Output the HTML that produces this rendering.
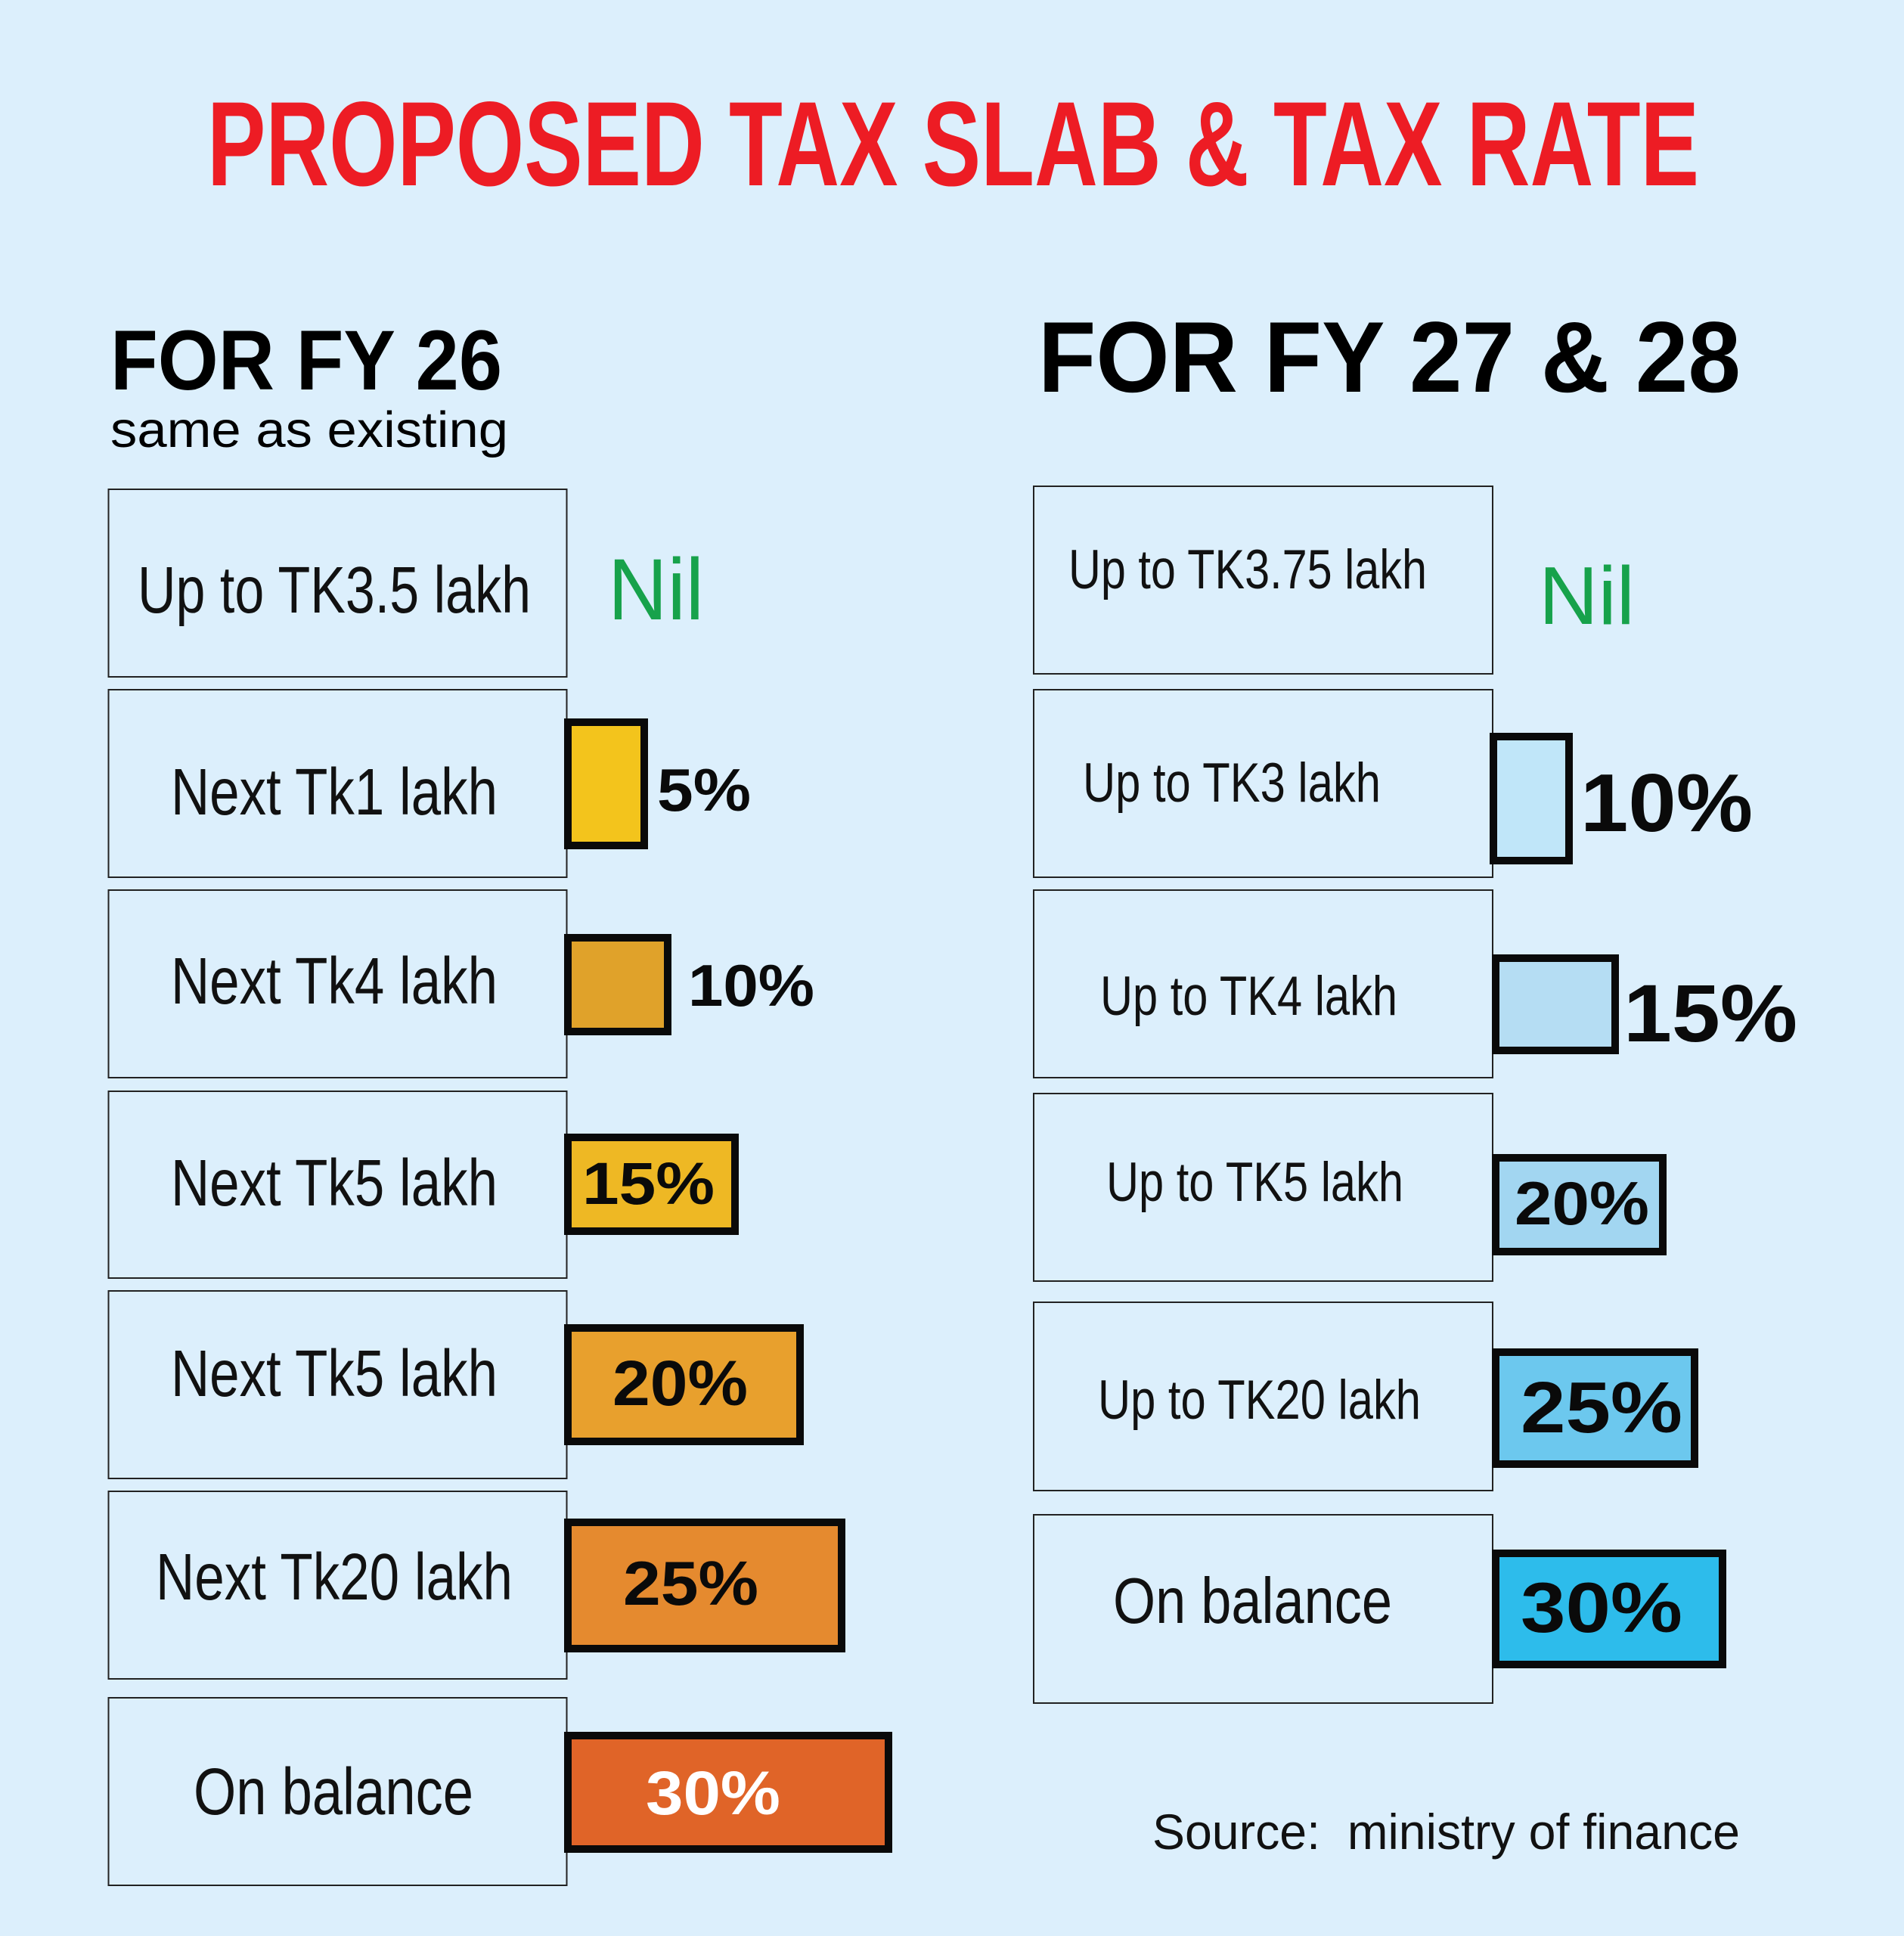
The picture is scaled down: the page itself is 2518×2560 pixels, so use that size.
<!DOCTYPE html>
<html>
<head>
<meta charset="utf-8">
<style>
html,body{margin:0;padding:0;background:#DCEFFC;}
svg{display:block;}
text{font-family:"Liberation Sans",Arial,sans-serif;}
.lbl{font-size:87px;fill:#111;}
.rlbl{font-size:73px;fill:#111;}
.pct{font-weight:bold;fill:#0a0a0a;}
.box{fill:none;stroke:#222;stroke-width:2;}
.bar{stroke:#0a0a0a;stroke-width:10;}
</style>
</head>
<body>
<svg width="2518" height="2560" viewBox="0 0 2518 2560" xmlns="http://www.w3.org/2000/svg">
<rect x="0" y="0" width="2518" height="2560" fill="#DCEFFC"/>

<!-- Title -->
<text x="274" y="245" font-size="159" font-weight="bold" fill="#ED1C24" textLength="1973" lengthAdjust="spacingAndGlyphs">PROPOSED TAX SLAB &amp; TAX RATE</text>

<!-- Headings -->
<text x="146" y="515" font-size="112" font-weight="bold" fill="#000" textLength="518" lengthAdjust="spacingAndGlyphs">FOR FY 26</text>
<text x="146" y="591" font-size="67" fill="#000" textLength="526" lengthAdjust="spacingAndGlyphs">same as existing</text>
<text x="1373" y="518" font-size="133" font-weight="bold" fill="#000" textLength="929" lengthAdjust="spacingAndGlyphs">FOR FY 27 &amp; 28</text>

<!-- Left boxes -->
<rect class="box" x="143.5" y="647" width="606" height="248"/>
<rect class="box" x="143.5" y="912" width="606" height="248"/>
<rect class="box" x="143.5" y="1177" width="606" height="248"/>
<rect class="box" x="143.5" y="1443" width="606" height="247"/>
<rect class="box" x="143.5" y="1707" width="606" height="248"/>
<rect class="box" x="143.5" y="1972" width="606" height="248"/>
<rect class="box" x="143.5" y="2245" width="606" height="248"/>

<!-- Left labels -->
<text class="lbl" x="182" y="810" textLength="520" lengthAdjust="spacingAndGlyphs">Up to TK3.5 lakh</text>
<text class="lbl" x="226" y="1077" textLength="432" lengthAdjust="spacingAndGlyphs">Next Tk1 lakh</text>
<text class="lbl" x="226" y="1327" textLength="432" lengthAdjust="spacingAndGlyphs">Next Tk4 lakh</text>
<text class="lbl" x="226" y="1594" textLength="432" lengthAdjust="spacingAndGlyphs">Next Tk5 lakh</text>
<text class="lbl" x="226" y="1846" textLength="432" lengthAdjust="spacingAndGlyphs">Next Tk5 lakh</text>
<text class="lbl" x="206" y="2115" textLength="472" lengthAdjust="spacingAndGlyphs">Next Tk20 lakh</text>
<text class="lbl" x="256" y="2399" textLength="370" lengthAdjust="spacingAndGlyphs">On balance</text>

<!-- Left values -->
<text x="804" y="819" font-size="115" fill="#17A24B" textLength="127" lengthAdjust="spacingAndGlyphs">Nil</text>

<rect class="bar" x="751" y="955" width="101" height="163" fill="#F3C41C"/>
<text class="pct" x="869" y="1072" font-size="80" textLength="124" lengthAdjust="spacingAndGlyphs">5%</text>

<rect class="bar" x="751" y="1240" width="132" height="124" fill="#E0A22A"/>
<text class="pct" x="910" y="1330" font-size="78" textLength="167" lengthAdjust="spacingAndGlyphs">10%</text>

<rect class="bar" x="751" y="1504" width="221" height="124" fill="#EEB824"/>
<text class="pct" x="770" y="1592" font-size="79" textLength="175" lengthAdjust="spacingAndGlyphs">15%</text>

<rect class="bar" x="751" y="1756" width="307" height="150" fill="#E8A02D"/>
<text class="pct" x="810" y="1858" font-size="84" textLength="179" lengthAdjust="spacingAndGlyphs">20%</text>

<rect class="bar" x="751" y="2013" width="362" height="167" fill="#E58A2F"/>
<text class="pct" x="824" y="2122" font-size="83" textLength="179" lengthAdjust="spacingAndGlyphs">25%</text>

<rect class="bar" x="751" y="2295" width="424" height="150" fill="#E06428"/>
<text class="pct" x="854" y="2399" font-size="82" style="fill:#fff" textLength="178" lengthAdjust="spacingAndGlyphs">30%</text>

<!-- Right boxes -->
<rect class="box" x="1367" y="643" width="607" height="248"/>
<rect class="box" x="1367" y="912" width="607" height="248"/>
<rect class="box" x="1367" y="1177" width="607" height="248"/>
<rect class="box" x="1367" y="1446" width="607" height="248"/>
<rect class="box" x="1367" y="1722" width="607" height="249"/>
<rect class="box" x="1367" y="2003" width="607" height="249"/>

<!-- Right labels -->
<text class="rlbl" x="1413" y="778" textLength="474" lengthAdjust="spacingAndGlyphs">Up to TK3.75 lakh</text>
<text class="rlbl" x="1432" y="1060" textLength="394" lengthAdjust="spacingAndGlyphs">Up to TK3 lakh</text>
<text class="rlbl" x="1455" y="1342" textLength="393" lengthAdjust="spacingAndGlyphs">Up to TK4 lakh</text>
<text class="rlbl" x="1463" y="1588" textLength="393" lengthAdjust="spacingAndGlyphs">Up to TK5 lakh</text>
<text class="rlbl" x="1452" y="1876" textLength="427" lengthAdjust="spacingAndGlyphs">Up to TK20 lakh</text>
<text class="lbl" x="1472" y="2146" style="font-size:85px" textLength="369" lengthAdjust="spacingAndGlyphs">On balance</text>

<!-- Right values -->
<text x="2035" y="825" font-size="109" fill="#17A24B" textLength="127" lengthAdjust="spacingAndGlyphs">Nil</text>

<rect class="bar" x="1975" y="974" width="100" height="164" fill="#C0E6F9"/>
<text class="pct" x="2090" y="1099" font-size="109" textLength="228" lengthAdjust="spacingAndGlyphs">10%</text>

<rect class="bar" x="1978" y="1267" width="158" height="122" fill="#B5DDF3"/>
<text class="pct" x="2147" y="1377" font-size="108" textLength="230" lengthAdjust="spacingAndGlyphs">15%</text>

<rect class="bar" x="1978" y="1531" width="221" height="124" fill="#A2D6F1"/>
<text class="pct" x="2003" y="1619" font-size="81" textLength="178" lengthAdjust="spacingAndGlyphs">20%</text>

<rect class="bar" x="1978" y="1788" width="263" height="148" fill="#6CC8EE"/>
<text class="pct" x="2011" y="1894" font-size="96" textLength="214" lengthAdjust="spacingAndGlyphs">25%</text>

<rect class="bar" x="1978" y="2054" width="300" height="147" fill="#2DBCEB"/>
<text class="pct" x="2011" y="2158" font-size="94" textLength="214" lengthAdjust="spacingAndGlyphs">30%</text>

<!-- Source -->
<text x="1524" y="2445" font-size="66" fill="#111" style="white-space:pre" textLength="777" lengthAdjust="spacingAndGlyphs">Source:  ministry of finance</text>
</svg>
</body>
</html>
